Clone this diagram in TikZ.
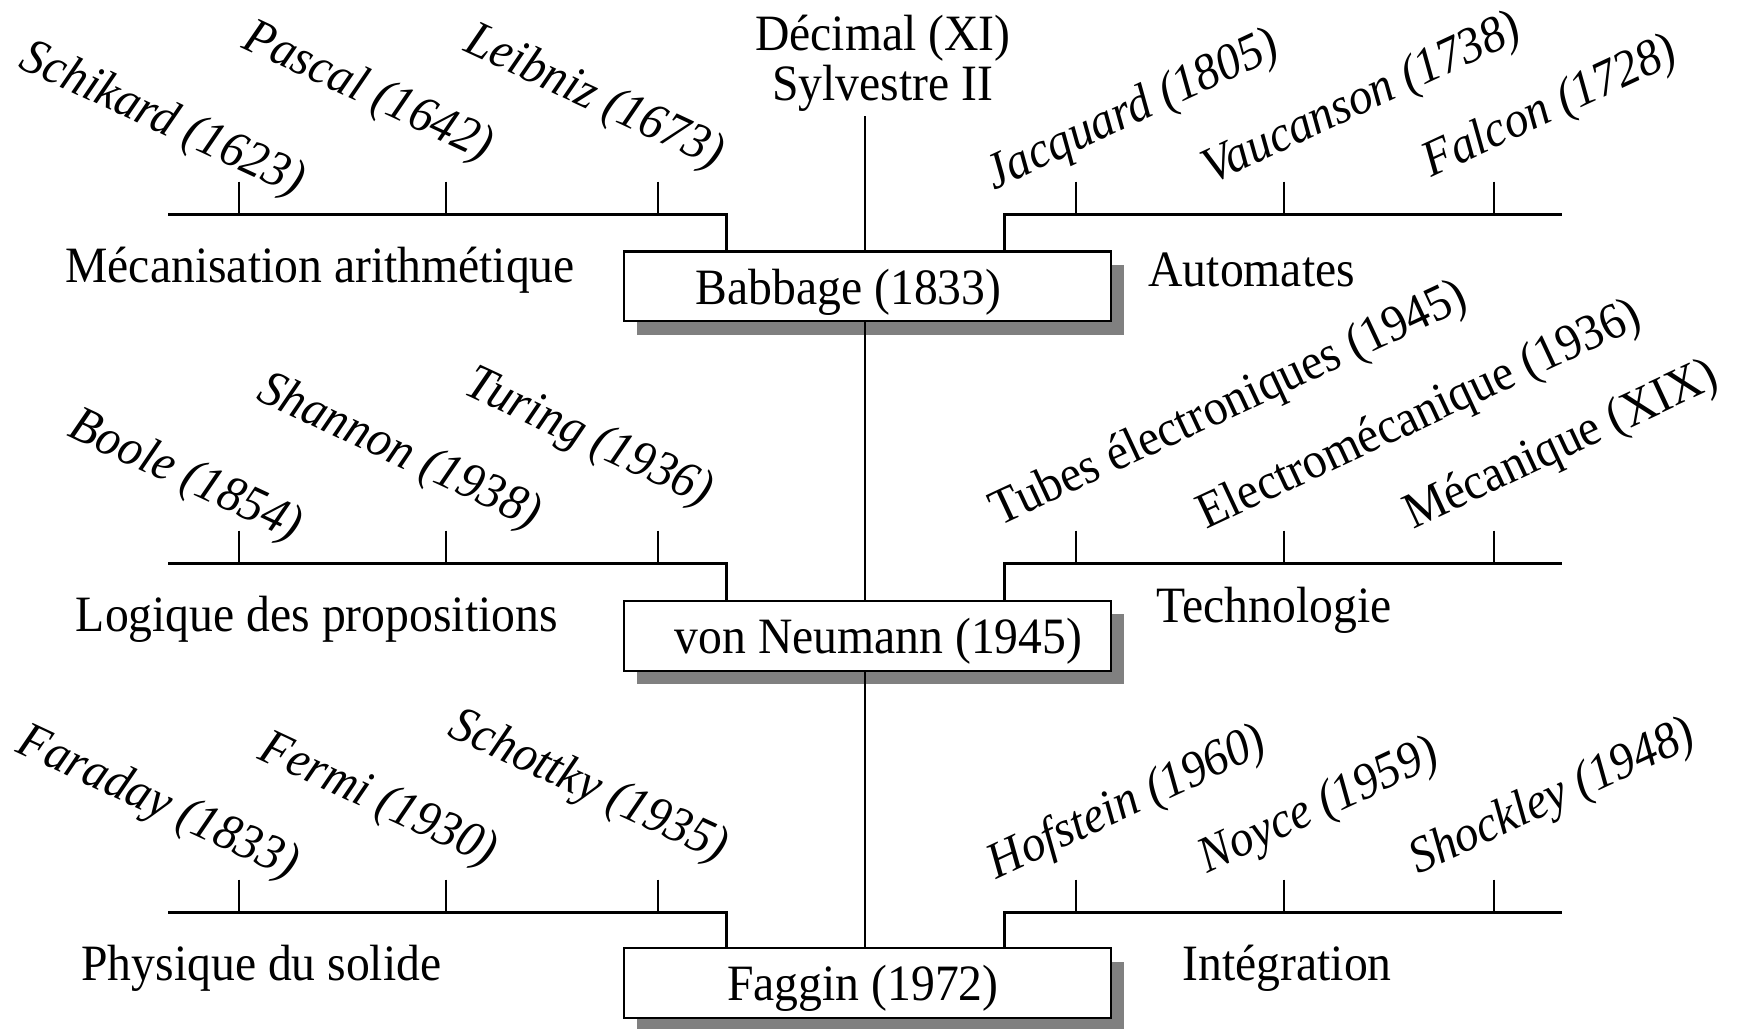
\documentclass[tikz,border=0pt]{standalone}
\usepackage{fontspec}
\setmainfont[FakeStretch=0.935]{Liberation Serif}
\usetikzlibrary{shadows}
\begin{document}
\begin{tikzpicture}[x=1pt,y=-1pt,
  txt/.style={font=\fontsize{46}{45}\selectfont, inner sep=0pt},
  pers/.style={font=\fontsize{46}{45}\selectfont\itshape, inner sep=0pt},
  lpers/.style={pers, rotate=-25},
  rpers/.style={pers, rotate=25},
  rtech/.style={txt, rotate=25},
  box/.style={draw, line width=2pt, fill=white, minimum width=440pt, minimum height=63pt, inner sep=0pt,
    drop shadow={shadow xshift=12pt, shadow yshift=-12pt, fill=gray, opacity=1}},
  branch/.style={line width=2.6pt},
  tickl/.style={line width=1.8pt},
  stem/.style={line width=2pt}]
\useasboundingbox (0,0) rectangle (1568,928);

% top label
\node[txt, align=center] (dec) at (797,57) {Décimal (XI)\\Sylvestre II};
\coordinate (stemtop) at (781,105);

% boxes
\node[box] (b1) at (783,258.5) {};
\node[txt] (b1t) at (766,264) {Babbage (1833)};
\node[box] (b2) at (783,574) {};
\node[txt] (b2t) at (793,579) {von Neumann (1945)};
\node[box] (b3) at (783,887.5) {};
\node[txt] (b3t) at (779,892) {Faggin (1972)};

% central stem
\draw[stem] (stemtop) -- (stemtop |- b1.north);
\draw[stem] (stemtop |- b1.south) -- (stemtop |- b2.north);
\draw[stem] (stemtop |- b2.south) -- (stemtop |- b3.north);

% branches
\foreach \r/\y/\b in {1/194/b1, 2/509/b2, 3/824/b3}{
  \coordinate (L\r s) at (152,\y);
  \coordinate (L\r e) at (656,\y);
  \coordinate (R\r s) at (1410,\y);
  \coordinate (R\r e) at (907,\y);
  \draw[branch] (L\r s) -- (L\r e) -- (L\r e |- \b.north);
  \draw[branch] (R\r s) -- (R\r e) -- (R\r e |- \b.north);
  \foreach \x in {216,403,594,971,1159,1349}{
    \coordinate (T\r-\x) at (\x,\y-30);
    \draw[tickl] (T\r-\x) -- (T\r-\x |- L\r s);
  }
}

% category labels
\node[txt] (c1l) at (289,244) {Mécanisation arithmétique};
\node[txt] (c1r) at (1130,244) {Automates};
\node[txt] (c2l) at (286,559) {Logique des propositions};
\node[txt] (c2r) at (1150,551) {Technologie};
\node[txt] (c3l) at (236,874) {Physique du solide};
\node[txt] (c3r) at (1162,874) {Intégration};

% row 1
\node[lpers] (p11) at (146,109) {Schikard (1623)};
\node[lpers] (p12) at (332,84) {Pascal (1642)};
\node[lpers] (p13) at (536,89) {Leibniz (1673)};
\node[rpers] (p14) at (1023,101) {Jacquard (1805)};
\node[rpers] (p15) at (1230,91) {Vaucanson (1738)};
\node[rpers] (p16) at (1400,98) {Falcon (1728)};

% row 2
\node[lpers] (p21) at (167,431) {Boole (1854)};
\node[lpers] (p22) at (360,409) {Shannon (1938)};
\node[lpers] (p23) at (531,396) {Turing (1936)};
\node[rtech] (p24) at (1110,366) {Tubes électroniques (1945)};
\node[rtech] (p25) at (1282,376) {Electromécanique (1936)};
\node[rtech] (p26) at (1410,403) {Mécanique (XIX)};

% row 3
\node[lpers] (p31) at (142,726) {Faraday (1833)};
\node[lpers] (p32) at (341,723) {Fermi (1930)};
\node[lpers] (p33) at (531,711) {Schottky (1935)};
\node[rpers] (p34) at (1018,726) {Hofstein (1960)};
\node[rpers] (p35) at (1191,729) {Noyce (1959)};
\node[rpers] (p36) at (1402,721) {Shockley (1948)};
\end{tikzpicture}
\end{document}
